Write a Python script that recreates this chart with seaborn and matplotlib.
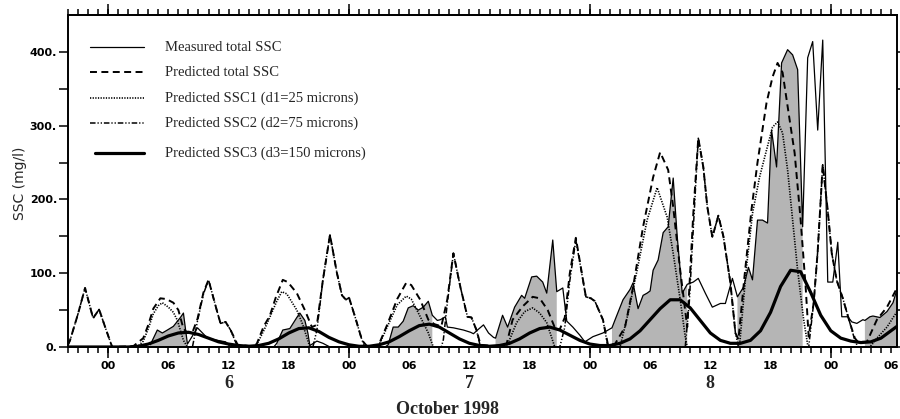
import numpy as np
import pandas as pd
import matplotlib
matplotlib.use("Agg")
import matplotlib.pyplot as plt
import matplotlib.transforms as mtransforms
import seaborn as sns

# time axis in hours from 00:00 on 6 October 1998
meas_hours = [4.2, 4.9, 5.4, 5.9, 6.5, 7.2, 7.5, 7.9, 8.9, 9.4, 9.9, 10.9, 11.7, 12.2, 16.5,
              16.8, 17.4, 18.1, 18.8, 19.1, 19.6, 19.9, 20.1, 20.8, 21.4, 22.1, 27.6,
              27.9, 28.4, 28.9, 29.4, 29.9, 30.4, 30.9, 31.4, 31.9, 32.3, 32.8, 33.1, 33.6, 33.8,
              34.4, 35.4, 36.1, 36.4, 36.8, 37.4, 37.9, 38.4,
              38.6, 39.3, 39.8, 40.5, 41.2, 41.5, 42.2, 42.7, 43.3, 43.7, 44.3, 44.7,
              45.3, 45.7, 46.3, 47.0, 47.5, 48.3, 49.3, 50.2,
              50.6, 51.3, 52.0, 52.3, 52.8, 53.3, 53.7, 54.0, 54.3, 54.8, 55.3, 55.8, 56.3, 56.7,
              57.2, 57.7, 58.3, 58.8, 59.5, 60.2, 61.0, 61.5, 62.2, 62.7,
              63.3, 63.8, 64.2, 64.7, 65.2, 65.7, 66.1, 66.6, 67.1, 67.7, 68.2, 68.7, 69.2,
              69.7, 70.2, 70.7, 71.2, 71.7, 72.2, 72.7, 73.1, 73.7, 74.1, 74.6, 75.2,
              75.4, 75.9, 76.2, 76.9, 77.6, 78.2, 78.6]
meas_ssc = [3, 23, 19, 23, 28, 40, 46, 4, 26, 19, 12, 9, 7, 0, 0,
            5, 23, 25, 40, 46, 36, 19, 2, 8, 5, 0, 0,
            3, 27, 27, 35, 53, 56, 50, 54, 62, 43, 36, 37, 41, 27,
            26, 23, 20, 18, 23, 30, 19, 13,
            12, 43, 27, 54, 70, 66, 95, 96, 88, 73, 145, 75,
            80, 35, 27, 16, 7, 14, 19, 26,
            40, 64, 78, 87, 52, 70, 73, 76, 104, 118, 155, 163, 229, 150,
            73, 85, 88, 93, 73, 54, 59, 59, 93, 68,
            81, 108, 91, 172, 172, 168, 294, 244, 385, 403, 396, 376, 163,
            392, 414, 294, 416, 88, 88, 142, 41, 41, 34, 32, 37,
            36, 41, 42, 40, 48, 60, 78]

# shaded periods (start, end) in hours
shaded = [(4.2, 7.9), (16.8, 20.1), (27.9, 32.3), (38.6, 44.7),
          (50.2, 57.7), (62.7, 69.2), (75.4, 78.6)]

total_hours = [-4.0, -3.8, -3.0, -2.3, -1.5, -0.9, -0.3, 0.4,
               2.5, 3.5, 4.0, 4.5, 5.2, 5.8, 6.5, 7.0, 7.5, 7.9,
               8.4, 8.9, 9.5, 10.0, 10.9, 11.2, 11.7, 12.2, 12.9, 14.4,
               14.8, 15.5, 16.1, 16.7, 17.4, 17.9, 18.8, 19.6, 20.3,
               20.8, 21.4, 22.1, 22.8, 23.3, 23.7, 24.0, 24.6, 25.3, 25.8,
               26.9, 27.8, 28.8, 29.7, 30.2, 31.1, 31.9, 32.5,
               33.2, 33.8, 34.4, 35.1, 35.8, 36.2, 36.7, 37.1, 38.5,
               39.7, 40.3, 41.3, 42.3, 43.0, 43.8, 44.6, 45.0,
               45.5, 46.0, 46.6, 47.6, 48.1, 48.5, 49.3, 49.8, 50.5,
               51.5, 52.3, 53.3, 54.3, 55.0, 55.8, 56.3, 57.0, 57.7,
               58.3, 58.8, 59.3, 59.7, 60.2, 60.8, 61.3, 62.0, 62.5, 62.8,
               63.4, 64.1, 64.7, 65.6, 66.2, 66.7, 67.2, 67.9, 68.4, 69.0, 69.5, 69.8,
               70.3, 70.7, 71.2, 71.7, 72.1, 72.6, 73.2, 73.9, 74.4, 74.7,
               75.6, 76.6, 77.6, 78.6]
total_ssc = [3, 9, 45, 80, 39, 51, 27, 0,
             1, 12, 30, 52, 66, 65, 60, 50, 25, 19,
             20, 38, 74, 91, 46, 32, 34, 23, 3, 1,
             4, 28, 42, 67, 91, 88, 73, 50, 27,
             30, 91, 152, 100, 70, 64, 67, 41, 9, 1,
             1, 30, 65, 87, 84, 64, 37, 31,
             28, 65, 127, 81, 41, 40, 23, 3, 1,
             4, 37, 55, 68, 66, 50, 23, 24,
             40, 100, 148, 68, 66, 62, 37, 3, 4,
             27, 81, 163, 230, 264, 240, 190, 104, 27,
             180, 283, 244, 190, 149, 178, 150, 87, 19, 10,
             95, 186, 250, 331, 366, 385, 372, 308, 263, 172, 81, 14,
             60, 130, 247, 185, 127, 90, 66, 33, 12, 7,
             7, 37, 54, 80]

ssc1_hours = [-4.0, 2.9, 3.5, 4.0, 4.5, 5.0, 5.4, 6.0, 6.5, 6.9, 7.5, 7.9,
              14.4, 14.8, 15.5, 16.1, 16.8, 17.3, 17.8, 18.8, 19.4, 20.1,
              26.9, 27.8, 28.8, 29.7, 30.2, 31.1, 31.9, 32.4,
              39.7, 40.7, 41.5, 42.3, 43.0, 43.7, 44.5,
              51.0, 51.8, 52.7, 53.7, 54.7, 55.7, 56.3, 57.0, 57.5, 57.7,
              62.9, 63.6, 64.2, 64.9, 65.6, 66.2, 66.7, 67.2, 67.7, 68.2, 68.7, 69.3, 69.7, 69.9,
              75.9, 76.6, 77.6, 78.6]
ssc1 = [0, 0, 8, 25, 45, 56, 60, 54, 47, 36, 9, 0,
        0, 3, 22, 40, 62, 75, 72, 50, 30, 0,
        0, 27, 57, 69, 65, 41, 19, 0,
        0, 33, 48, 53, 46, 33, 0,
        0, 45, 104, 172, 216, 176, 127, 64, 14, 0,
        0, 108, 181, 230, 267, 298, 305, 290, 240, 172, 104, 37, 3, 0,
        0, 12, 27, 48]

ssc2_hours = [-4.0, -3.8, -3.0, -2.3, -1.5, -0.9, -0.3, 0.4,
              8.4, 8.9, 9.5, 10.0, 10.9, 11.2, 11.7, 12.2, 12.9,
              20.4, 20.8, 21.4, 22.1, 22.8, 23.3, 23.7, 24.0, 24.6, 25.3, 25.6,
              33.2, 33.4, 33.8, 34.4, 35.1, 35.8, 36.2, 36.7, 37.1,
              45.0, 45.5, 46.0, 46.6, 47.6, 48.1, 48.5, 49.3, 49.8,
              57.5, 57.9, 58.3, 58.8, 59.3, 59.7, 60.2, 60.8, 61.3, 62.0, 62.5, 62.8,
              69.8, 70.3, 70.7, 71.2, 71.7, 72.1, 72.6, 73.2, 73.9, 74.4, 74.7, 78.6]
ssc2 = [3, 9, 45, 80, 39, 51, 27, 0,
        0, 35, 72, 91, 46, 32, 34, 23, 0,
        0, 23, 91, 152, 100, 70, 64, 67, 41, 9, 0,
        0, 10, 60, 127, 81, 41, 40, 23, 0,
        0, 27, 90, 145, 68, 66, 62, 37, 0,
        0, 60, 160, 283, 244, 190, 149, 178, 150, 87, 19, 0,
        0, 60, 130, 247, 185, 127, 90, 66, 33, 9, 0, 0]

ssc3_hours = list(range(-4, 79)) + [78.6]
ssc3 = [0, 0, 0, 0, 0, 0, 0, 1, 4, 9, 15, 19, 20, 17, 12, 7, 4, 2, 1,
        2, 5, 11, 19, 25, 26, 21, 13, 7, 3, 1, 1,
        3, 7, 14, 22, 29, 31, 27, 19, 11, 5, 2, 1,
        2, 5, 11, 19, 25, 27, 23, 16, 9, 4, 2, 2,
        5, 11, 22, 37, 52, 64, 64, 53, 36, 19, 9, 5,
        5, 9, 22, 47, 82, 104, 102, 74, 43, 22, 12, 8, 6, 7, 12, 22, 28]

hour_labels = ["00", "06", "12", "18"]
day_ticks = [0, 24, 48, 72]
day_names = ["6", "7", "8"]
day_hours = [12, 36, 60]
y_ticks = [0, 100, 200, 300, 400]
y_labels = ["0.", "100.", "200.", "300.", "400."]

legend_names = ["Measured total SSC", "Predicted total SSC",
                "Predicted SSC1 (d1=25 microns)", "Predicted SSC2 (d2=75 microns)",
                "Predicted SSC3 (d3=150 microns)"]

sns.set_theme(style="ticks")
plt.rcParams["font.family"] = ["DejaVu Sans"]
plt.rcParams["lines.scale_dashes"] = False

styles = {
    "meas": dict(color="black", lw=0.9, linestyle="-"),
    "total": dict(color="black", lw=1.4, linestyle=(0, (5, 3.2))),
    "ssc1": dict(color="black", lw=1.2, linestyle=(0, (0.9, 1.0))),
    "ssc2": dict(color="black", lw=1.1, linestyle=(0, (4, 1.4, 0.9, 1.4, 0.9, 1.4))),
    "ssc3": dict(color="black", lw=2.3, linestyle="-"),
}

fig = plt.figure(figsize=(9, 4.19), dpi=100)
ax = fig.add_axes([68 / 900, 1 - 347 / 419, 829 / 900, 332 / 419])

meas = pd.DataFrame({"hour": meas_hours, "ssc": meas_ssc})
for a, b in shaded:
    part = meas[(meas.hour >= a - 1e-6) & (meas.hour <= b + 1e-6)]
    ax.fill_between(part.hour, 0, part.ssc, facecolor="#b5b5b5", edgecolor="none", zorder=1)

series = [("meas", meas_hours, meas_ssc), ("total", total_hours, total_ssc),
          ("ssc1", ssc1_hours, ssc1), ("ssc2", ssc2_hours, ssc2),
          ("ssc3", ssc3_hours, ssc3)]
for key, hh, vv in series:
    df = pd.DataFrame({"hour": hh, "ssc": vv})
    sns.lineplot(data=df, x="hour", y="ssc", ax=ax, estimator=None, zorder=3, **styles[key])

ax.set_xlim(-4, 78.6)
ax.set_ylim(0, 450)
ax.set_xlabel("")
ax.set_ylabel("")

major_x = np.arange(0, 79, 6)
ax.set_xticks(major_x)
ax.set_xticklabels([hour_labels[i % 4] for i in range(len(major_x))])
ax.set_xticks(np.arange(-4, 79), minor=True)
ax.set_yticks(y_ticks)
ax.set_yticklabels(y_labels)
ax.set_yticks([50, 150, 250, 350], minor=True)

ax.tick_params(axis="x", which="both", direction="out", length=4, width=1.1,
               top=True, bottom=True, pad=6, labelsize=8, colors="black")
ax.tick_params(axis="y", which="both", direction="out", length=6.5, width=1.1,
               left=True, right=True, pad=1.5, labelsize=8, colors="black")
for lab in ax.get_xticklabels() + ax.get_yticklabels():
    lab.set_fontweight("bold")
for sp in ax.spines.values():
    sp.set_visible(True)
    sp.set_linewidth(1.4)
    sp.set_color("black")

for loc in ["bottom", "top"]:
    sec = ax.secondary_xaxis(loc)
    sec.set_xticks(day_ticks)
    sec.tick_params(length=8, width=1.3, labelbottom=False, labeltop=False)
    for sp in sec.spines.values():
        sp.set_linewidth(1.4)

# legend drawn by hand
rows = [0.9036, 0.8283, 0.75, 0.6747, 0.5843]
keys = ["meas", "total", "ssc1", "ssc2", "ssc3"]
for key, name, yy in zip(keys, legend_names, rows):
    x0 = 0.0325 if key == "ssc3" else 0.0265
    ax.plot([x0, 0.0917], [yy, yy], transform=ax.transAxes, **styles[key])
    ax.text(0.117, yy, name, transform=ax.transAxes, ha="left", va="center",
            fontsize=10.5, family=["Liberation Serif", "DejaVu Serif"])

trans = mtransforms.blended_transform_factory(ax.transData, fig.transFigure)
for h, d in zip(day_hours, day_names):
    fig.text(h, 1 - 383 / 419, d, transform=trans, ha="center", va="center",
             fontsize=13, fontweight="bold", family=["Liberation Serif", "DejaVu Serif"])
fig.text(447 / 900, 1 - 409 / 419, "October 1998", ha="center", va="center",
         fontsize=13, fontweight="bold", family=["Liberation Serif", "DejaVu Serif"])
fig.text(20 / 900, 1 - 183 / 419, "SSC (mg/l)", rotation=90, ha="center", va="center",
         fontsize=10)

fig.savefig("out.png", dpi=100)
